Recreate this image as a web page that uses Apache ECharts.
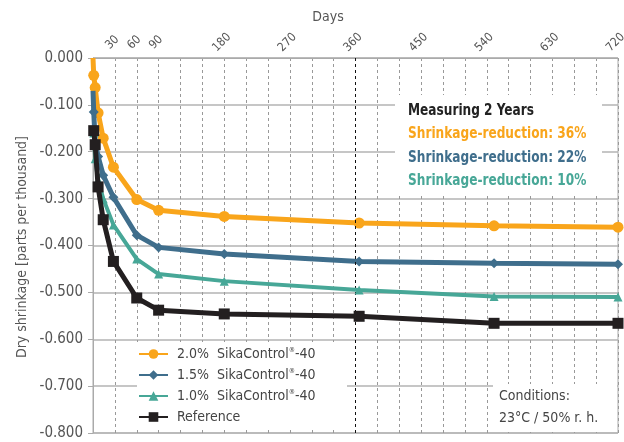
<!DOCTYPE html>
<html>
<head>
<meta charset="utf-8">
<script src="https://cdn.jsdelivr.net/npm/echarts@6/dist/echarts.min.js"></script>
<style>
html,body{margin:0;padding:0;background:#fff;}
#chart{width:624px;height:442px;}
</style>
</head>
<body>
<div id="chart"></div>
<script>
// ---- data ----
const days = [0, 1, 3, 7, 14, 28, 60, 90, 180, 365, 550, 720];
const sika20 = [0, -0.037, -0.063, -0.117, -0.171, -0.233, -0.302, -0.325, -0.338, -0.352, -0.358, -0.361];
const sika15 = [-0.07, -0.115, -0.180, -0.210, -0.250, -0.297, -0.378, -0.404, -0.418, -0.434, -0.438, -0.440];
const sika10 = [null, -0.160, -0.215, -0.260, -0.300, -0.356, -0.429, -0.461, -0.476, -0.495, -0.509, -0.510];
const reference = [null, -0.155, -0.185, -0.275, -0.345, -0.434, -0.512, -0.538, -0.546, -0.551, -0.566, -0.566];
const seriesNames = ['2.0%  SikaControl®-40', '1.5%  SikaControl®-40', '1.0%  SikaControl®-40', 'Reference'];
const xTickLabels = [30, 60, 90, 180, 270, 360, 450, 540, 630, 720];
const markerDay = 360;
const boxLines = ['Measuring 2 Years', 'Shrinkage-reduction: 36%', 'Shrinkage-reduction: 22%', 'Shrinkage-reduction: 10%'];
const conditionLines = ['Conditions:', '23°C / 50% r. h.'];

const FONT = "'DejaVu Sans Condensed','Liberation Sans Narrow','Roboto',sans-serif";
const colors = ['#F9A51B', '#3F6E8C', '#47A797', '#231F20'];

function toData(vals) {
  const out = [];
  vals.forEach((v, i) => {
    if (v === null) return;
    if (days[i] === 0) out.push({ value: [days[i], v], symbol: 'none' });
    else out.push([days[i], v]);
  });
  return out;
}

const chart = echarts.init(document.getElementById('chart'), null, { renderer: 'canvas' });

const symbols = ['circle', 'diamond', 'triangle', 'rect'];
const symbolSizes = [11, 10, 9, 11];
const widths = [5, 5, 4, 5];
const allVals = [sika20, sika15, sika10, reference];

const series = allVals.map((vals, i) => ({
  name: seriesNames[i],
  type: 'line',
  data: toData(vals),
  symbol: symbols[i],
  symbolSize: symbolSizes[i],
  showAllSymbol: true,
  lineStyle: { width: widths[i], color: colors[i] },
  itemStyle: { color: colors[i] },
  z: 3 + i,
  animation: false
}));

series.unshift({
  type: 'line',
  data: [],
  silent: true,
  z: 1,
  markLine: {
    symbol: 'none',
    silent: true,
    label: { show: false },
    lineStyle: { type: [3, 3], color: '#111', width: 1 },
    data: [{ xAxis: markerDay }],
    animation: false
  }
});

const boldText = (txt, y, fill) => ({
  type: 'text', z: 10, x: 408, y: y, scaleX: 0.9,
  style: { text: txt, x: 0, y: 0, verticalAlign: 'middle', fontSize: 15, fontWeight: 'bold', fontFamily: FONT, fill: fill }
});

const option = {
  animation: false,
  textStyle: { fontFamily: FONT },
  grid: {
    left: 93, right: 6, top: 58, bottom: 9,
    containLabel: false,
    outerBoundsMode: 'none',
    show: true, borderColor: '#aaa', borderWidth: 1
  },
  legend: {
    data: seriesNames,
    orient: 'vertical',
    left: 138, top: 347,
    itemWidth: 29, itemHeight: 12, itemGap: 7,
    padding: 0,
    z: 8,
    textStyle: {
      fontSize: 14, color: '#444', fontFamily: FONT, padding: [0, 0, 0, 4],
      rich: { sup: { fontSize: 7, verticalAlign: 'top', color: '#444', fontFamily: FONT } }
    },
    formatter: name => name.replace('®', '{sup|®}')
  },
  xAxis: {
    type: 'value',
    position: 'top',
    min: 0, max: 720, interval: 30,
    axisLine: { show: true, lineStyle: { color: '#aaa', width: 1 } },
    axisTick: { show: false },
    axisLabel: {
      rotate: 45,
      fontSize: 12, color: '#555',
      margin: 18,
      align: 'center', verticalAlign: 'middle',
      padding: [0, 7, 7, 0],
      formatter: v => xTickLabels.includes(v) ? String(v) : ''
    },
    splitLine: { show: true, lineStyle: { type: [3, 3], color: '#999', width: 1 } }
  },
  yAxis: {
    type: 'value',
    min: -0.8, max: 0, interval: 0.1,
    axisLine: { show: true, lineStyle: { color: '#aaa', width: 1 } },
    axisTick: { show: true, length: 5, lineStyle: { color: '#aaa' } },
    axisLabel: {
      fontSize: 15, color: '#555', margin: 10,
      formatter: v => v.toFixed(3)
    },
    splitLine: { show: true, lineStyle: { color: '#b3b3b3', width: 1.5 } }
  },
  graphic: [
    { type: 'text', z: 10, style: { text: 'Days', x: 328, y: 17, align: 'center', verticalAlign: 'middle', fontSize: 14, fontFamily: FONT, fill: '#555' } },
    { type: 'text', z: 10, rotation: Math.PI / 2, x: 22, y: 247,
      style: { text: 'Dry shrinkage [parts per thousand]', x: 0, y: 0, align: 'center', verticalAlign: 'middle', fontSize: 14, fontFamily: FONT, fill: '#555' } },
    // legend background
    { type: 'rect', z: 7, shape: { x: 137, y: 342, width: 210, height: 88 }, style: { fill: '#fff' } },
    // info box
    { type: 'rect', z: 7, shape: { x: 395, y: 95, width: 207, height: 100 }, style: { fill: '#fff' } },
    boldText(boxLines[0], 111, '#222'),
    boldText(boxLines[1], 134, colors[0]),
    boldText(boxLines[2], 158, colors[1]),
    boldText(boxLines[3], 181, colors[2]),
    // conditions box
    { type: 'rect', z: 7, shape: { x: 493, y: 384, width: 124, height: 48 }, style: { fill: '#fff' } },
    { type: 'text', z: 10, style: { text: conditionLines[0], x: 499, y: 396, verticalAlign: 'middle', fontSize: 14, fontFamily: FONT, fill: '#444' } },
    { type: 'text', z: 10, style: { text: conditionLines[1], x: 499, y: 418, verticalAlign: 'middle', fontSize: 14, fontFamily: FONT, fill: '#444' } }
  ],
  series: series
};

chart.setOption(option);
</script>
</body>
</html>
